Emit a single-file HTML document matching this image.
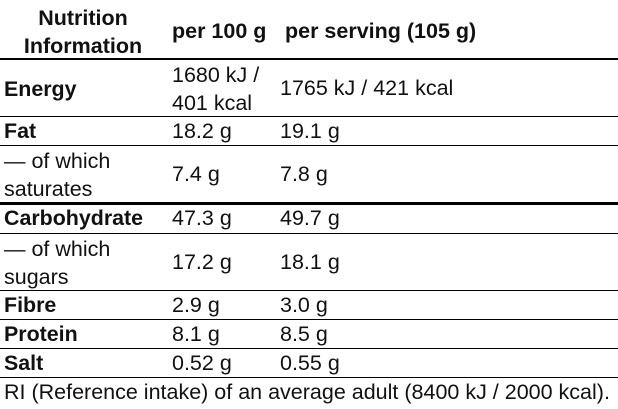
<!DOCTYPE html>
<html><head><meta charset="utf-8"><style>
body{margin:0;width:618px;height:409px;background:#fff;position:relative;overflow:hidden;font-family:"Liberation Sans",sans-serif;color:#111}
.t{position:absolute;white-space:nowrap;font-size:21.5px;line-height:27px}
.b{font-weight:bold;font-size:21.4px}
.h{font-size:21.5px}
.l{position:absolute;left:0;width:618px;height:1px;background:#000}
.k{height:3px}
</style></head><body>
<div class="t b h" style="left:8px;top:4px;width:150px;text-align:center;line-height:28px">Nutrition<br>Information</div>
<div class="t b h" style="left:172px;top:18px">per 100 g</div>
<div class="t b h" style="left:285px;top:18px">per serving (105 g)</div>
<div class="l" style="top:58px;height:2px"></div>

<div class="t b" style="left:4px;top:76px">Energy</div>
<div class="t" style="left:172px;top:61px;line-height:28px">1680 kJ /<br>401 kcal</div>
<div class="t" style="left:280px;top:75px">1765 kJ / 421 kcal</div>
<div class="l" style="top:116px"></div>

<div class="t b" style="left:4px;top:118px">Fat</div>
<div class="t" style="left:172px;top:118px">18.2 g</div>
<div class="t" style="left:280px;top:118px">19.1 g</div>
<div class="l" style="top:145px"></div>

<div class="t" style="left:4px;top:147px;line-height:28px">— of which<br>saturates</div>
<div class="t" style="left:172px;top:161px">7.4 g</div>
<div class="t" style="left:280px;top:161px">7.8 g</div>
<div class="l k" style="top:202px"></div>

<div class="t b" style="left:4px;top:205px">Carbohydrate</div>
<div class="t" style="left:172px;top:205px">47.3 g</div>
<div class="t" style="left:280px;top:205px">49.7 g</div>
<div class="l" style="top:233px"></div>

<div class="t" style="left:4px;top:235px;line-height:28px">— of which<br>sugars</div>
<div class="t" style="left:172px;top:249px">17.2 g</div>
<div class="t" style="left:280px;top:249px">18.1 g</div>
<div class="l" style="top:290px"></div>

<div class="t b" style="left:4px;top:292px">Fibre</div>
<div class="t" style="left:172px;top:292px">2.9 g</div>
<div class="t" style="left:280px;top:292px">3.0 g</div>
<div class="l" style="top:319px"></div>

<div class="t b" style="left:4px;top:321px">Protein</div>
<div class="t" style="left:172px;top:321px">8.1 g</div>
<div class="t" style="left:280px;top:321px">8.5 g</div>
<div class="l" style="top:348px"></div>

<div class="t b" style="left:4px;top:350px">Salt</div>
<div class="t" style="left:172px;top:350px">0.52 g</div>
<div class="t" style="left:280px;top:350px">0.55 g</div>
<div class="l" style="top:377px"></div>

<div class="t" style="left:4px;top:379px;font-size:21.5px">RI (Reference intake) of an average adult (8400 kJ / 2000 kcal).</div>
</body></html>
